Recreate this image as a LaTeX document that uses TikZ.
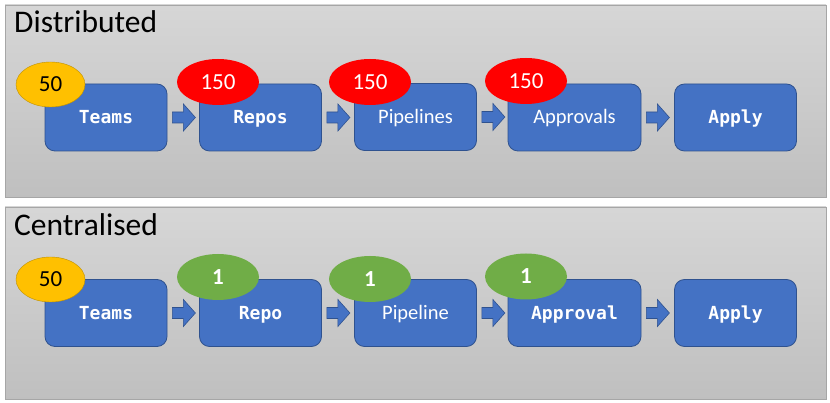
\documentclass[tikz,border=0pt]{standalone}
\usepackage{fontspec}
\setmainfont{Carlito}
\newfontfamily\monofont{DejaVu Sans Mono}
\usetikzlibrary{shapes.geometric,calc}

\definecolor{boxblue}{HTML}{4472C4}
\definecolor{boxedge}{HTML}{2F528F}
\definecolor{teamgold}{HTML}{FFC000}
\definecolor{teamedge}{HTML}{BF9000}
\definecolor{manyred}{HTML}{FF0000}
\definecolor{onegreen}{HTML}{70AD47}

\tikzset{
  panel/.style={draw=gray!70, line width=.8pt, top color=gray!32, bottom color=gray!50},
  stage/.style={draw=boxedge, fill=boxblue, line width=.8pt, rounded corners=10pt,
    minimum width=122pt, minimum height=67pt, inner sep=0pt, text=white,
    text height=13pt, text depth=0pt, font=\fontsize{20.5}{24}\selectfont},
  monolabel/.style={font=\monofont\bfseries\fontsize{18}{21}\selectfont},
  link/.style={draw=boxedge, fill=boxblue, line width=.6pt},
  count/.style={ellipse, minimum width=82pt, minimum height=46pt, inner sep=0pt,
    text=white, text height=15pt, text depth=0pt, font=\fontsize{23}{26}\selectfont},
  teamcount/.style={ellipse, draw=teamedge, fill=teamgold, minimum width=69pt,
    minimum height=45pt, inner sep=0pt, text height=15pt, text depth=0pt,
    font=\fontsize{23}{26}\selectfont},
  title/.style={anchor=base west, inner sep=0pt, font=\fontsize{31.5}{36}\selectfont}
}

\newcommand{\blockarrow}[1]{%
  \draw[link] ($(#1.east)+(5,-5.5)$) -- ++(11,0) -- ++(0,-8) -- ++(12,13.5)
    -- ++(-12,13.5) -- ++(0,-8) -- ++(-11,0) -- cycle;}

\begin{document}
\begin{tikzpicture}[x=1pt,y=-1pt]
    \useasboundingbox (0,0) rectangle (830,403);

    % distributed
    \draw[panel] (5,5) rectangle (826,197);
    \node[title] (distTitle) at (14,33) {Distributed};

    \node[stage,monolabel] (teamsD) at (106,117.5) {Teams};
    \node[stage,monolabel] (reposD) at (260.5,117.5) {Repos};
    \node[stage] (pipesD) at (415.5,117) {Pipelines};
    \node[stage,minimum width=133pt] (apprD) at (574.5,117.5) {Approvals};
    \node[stage,monolabel] (applyD) at (735.5,117.5) {Apply};

    \blockarrow{teamsD}
    \blockarrow{reposD}
    \blockarrow{pipesD}
    \blockarrow{apprD}

    \node[teamcount] (nTeamsD) at (50.5,84.5) {50};
    \node[count,fill=manyred] (nReposD) at (218,82) {150};
    \node[count,fill=manyred] (nPipesD) at (370,82) {150};
    \node[count,fill=manyred] (nApprD) at (526,81) {150};

    % centralised
    \draw[panel] (5,207) rectangle (826,399);
    \node[title] (centTitle) at (14,236) {Centralised};

    \node[stage,monolabel] (teamsC) at (106,313) {Teams};
    \node[stage,monolabel] (repoC) at (260.5,313) {Repo};
    \node[stage] (pipeC) at (415.5,313) {Pipeline};
    \node[stage,monolabel,minimum width=133pt] (apprC) at (574.5,313) {Approval};
    \node[stage,monolabel] (applyC) at (735.5,313) {Apply};

    \blockarrow{teamsC}
    \blockarrow{repoC}
    \blockarrow{pipeC}
    \blockarrow{apprC}

    \node[teamcount] (nTeamsC) at (50.5,279.5) {50};
    \node[count,fill=onegreen,font=\bfseries\fontsize{23}{26}\selectfont] (nRepoC) at (218,277) {1};
    \node[count,fill=onegreen,font=\bfseries\fontsize{23}{26}\selectfont] (nPipeC) at (370,279) {1};
    \node[count,fill=onegreen,font=\bfseries\fontsize{23}{26}\selectfont] (nApprC) at (526,276.5) {1};
  \end{tikzpicture}
\end{document}
